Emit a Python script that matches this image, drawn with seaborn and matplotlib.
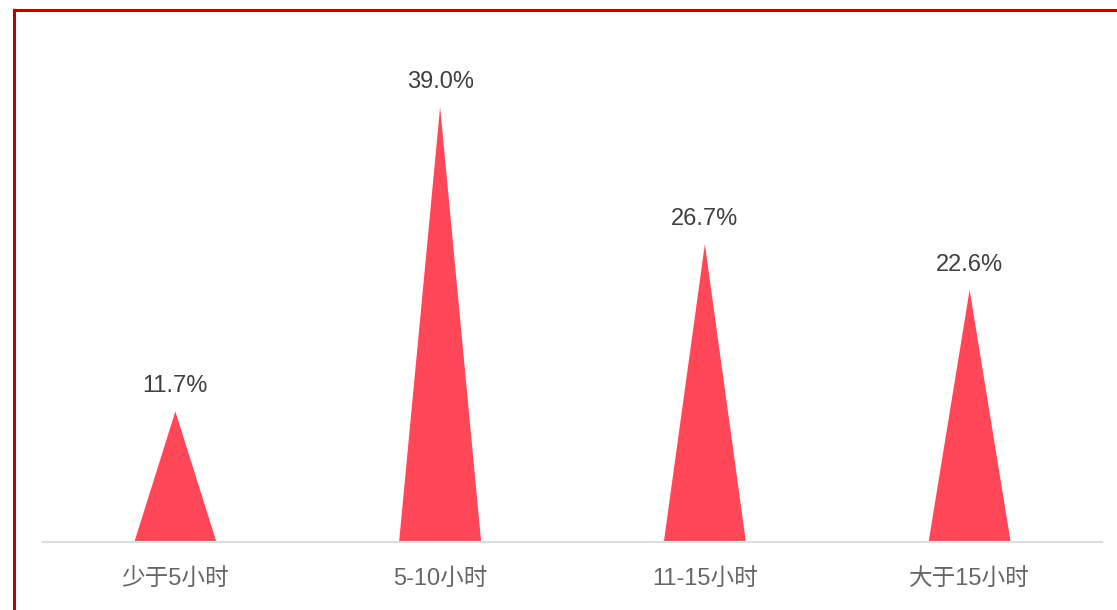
import matplotlib
matplotlib.use("Agg")
import matplotlib.pyplot as plt
from matplotlib.patches import Polygon
from matplotlib.lines import Line2D
import seaborn as sns
import pandas as pd

categories = ["少于5小时", "5-10小时", "11-15小时", "大于15小时"]
shares = [11.7, 39.0, 26.7, 22.6]
value_labels = ["11.7%", "39.0%", "26.7%", "22.6%"]

sns.set_theme(style="white")
plt.rcParams["font.family"] = ["Liberation Sans", "Noto Sans CJK SC", "DejaVu Sans"]

W, H = 1117, 610
fig = plt.figure(figsize=(W / 100, H / 100), dpi=100)
ax = fig.add_axes([43 / W, (H - 542) / H, (1102 - 43) / W, (542 - 30) / H])

df = pd.DataFrame({"category": categories, "share": shares})
sns.barplot(data=df, x="category", y="share", ax=ax, width=0.31,
            color="#ff4757", saturation=1)

# turn each bar into a triangle spanning the bar's base up to its value
for bar, label in zip(list(ax.patches), value_labels):
    x0 = bar.get_x()
    w = bar.get_width()
    h = bar.get_height()
    tri = Polygon([(x0, 0), (x0 + w / 2, h), (x0 + w, 0)], closed=True,
                  facecolor="#ff4757", edgecolor="none")
    bar.set_visible(False)
    ax.add_patch(tri)
    ax.annotate(label, (x0 + w / 2, h), xytext=(0, 18), textcoords="offset points",
                ha="center", va="center", fontsize=17, color="#404040")

ax.set_ylim(0, 45.9)
ax.set_xlim(-0.5, len(categories) - 0.5)
ax.set_xlabel("")
ax.set_ylabel("")
ax.set_yticks([])
ax.tick_params(axis="x", length=0, pad=19, labelsize=17, labelcolor="#666666")
for side in ["top", "right", "left"]:
    ax.spines[side].set_visible(False)
ax.spines["bottom"].set_color("#dddddd")
ax.spines["bottom"].set_linewidth(1.5)

# outer frame along the top and left edges
lx = 14 / W
ty = 1 - 9.5 / H
fig.add_artist(Line2D([lx, lx], [0, ty], transform=fig.transFigure,
                      color="#c00000", linewidth=2.2, solid_capstyle="projecting"))
fig.add_artist(Line2D([lx, 1], [ty, ty], transform=fig.transFigure,
                      color="#c00000", linewidth=2.2, solid_capstyle="projecting"))

fig.savefig("out.png", dpi=100, facecolor="white")
